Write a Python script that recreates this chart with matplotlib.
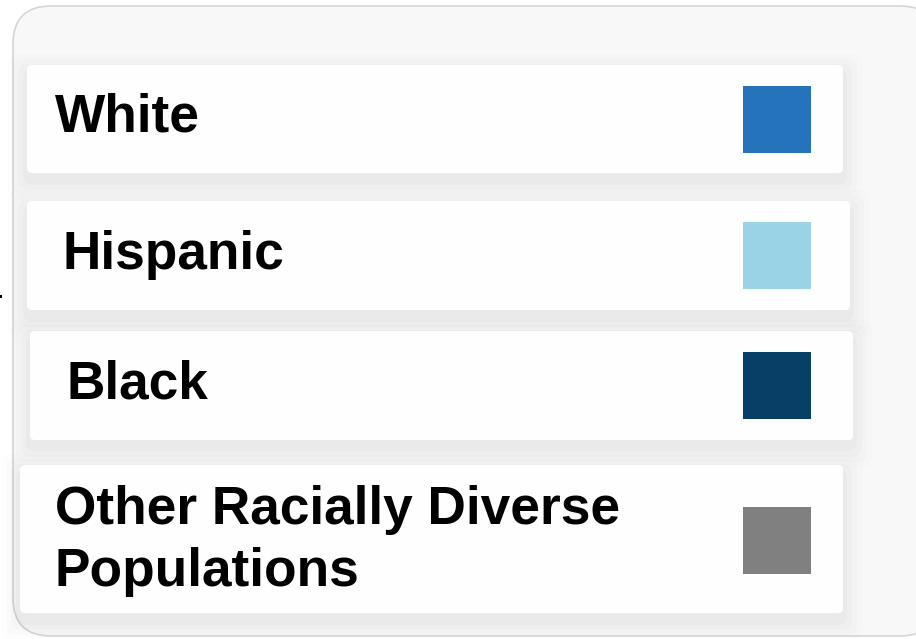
import matplotlib.pyplot as plt
from matplotlib.patches import FancyBboxPatch, Rectangle

# Legend entries
labels = ['White', 'Hispanic', 'Black', 'Other Racially Diverse\nPopulations']
colors = ['#2473bb', '#9ad3e5', '#083f66', '#808080']

# row boxes (left, top, right, bottom) in pixels, plus text x offset
rows = [(27, 65, 843, 173, 55),
        (27, 201, 850, 310, 62),
        (30, 331, 853, 440, 66),
        (20, 465, 843, 613, 55)]

W, H = 916, 639
fig = plt.figure(figsize=(W / 100, H / 100), dpi=100)
ax = fig.add_axes([0, 0, 1, 1])
ax.set_xlim(0, W)
ax.set_ylim(H, 0)
ax.axis('off')

# outer card
ax.add_patch(FancyBboxPatch((13, 6), 925, 630, boxstyle='round,pad=0,rounding_size=38',
                            facecolor='#f8f8f8', edgecolor='#d6d6d6', lw=1.2, zorder=1))

for (x0, y0, x1, y1, tx), lab, col in zip(rows, labels, colors):
    # soft shadow
    for k, a in enumerate([0.018, 0.014, 0.01, 0.008]):
        d = 4 + k * 5
        ax.add_patch(FancyBboxPatch((x0 - d, y0 - d + 8), x1 - x0 + 2 * d, y1 - y0 + 2 * d,
                                    boxstyle='round,pad=0,rounding_size=10',
                                    facecolor='black', alpha=a, edgecolor='none', zorder=2))
    ax.add_patch(FancyBboxPatch((x0, y0), x1 - x0, y1 - y0, boxstyle='round,pad=0,rounding_size=5',
                                facecolor='#fefefe', edgecolor='none', zorder=3))
    yc = (y0 + y1) / 2
    ax.add_patch(Rectangle((743, yc - 33.5 + (1 if y1 - y0 > 120 else 0)), 68, 67,
                           facecolor=col, edgecolor='none', zorder=4))
    ax.text(tx, yc + (2 if '\n' in lab else -1), lab, fontsize=38.3, fontweight='bold',
            family='Liberation Sans', va='center', ha='left', color='black',
            linespacing=1.3, zorder=5)

# stray tick mark at left edge
ax.add_patch(Rectangle((0, 295), 2, 3, facecolor='black', edgecolor='none', zorder=5))

fig.savefig('out.png', dpi=100, facecolor='white')
